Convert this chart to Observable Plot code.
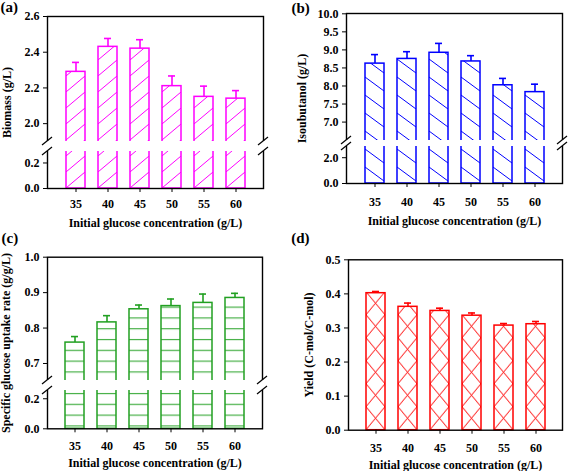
<!DOCTYPE html>
<html><head><meta charset="utf-8">
<script src="https://cdn.jsdelivr.net/npm/d3@7"></script>
<script src="https://cdn.jsdelivr.net/npm/@observablehq/plot@0.6"></script>
<style>
body{margin:0;background:#fff;}
#fig{position:relative;width:568px;height:471px;overflow:hidden;background:#fff;}
#fig svg{position:absolute;overflow:visible;}
</style></head><body><div id="fig"></div>
<script>
const glucose = ["35", "40", "45", "50", "55", "60"];
const xTitle = "Initial glucose concentration (g/L)";

const biomass = [2.29, 2.43, 2.42, 2.21, 2.15, 2.14];
const biomassErr = [0.053, 0.047, 0.05, 0.057, 0.06, 0.045];
const biomassTicks = [0, 0.2, 2.0, 2.2, 2.4, 2.6];

const isobutanol = [8.62, 8.75, 8.92, 8.68, 8.02, 7.83];
const isobutanolErr = [0.25, 0.2, 0.26, 0.16, 0.19, 0.22];
const isobutanolTicks = [0, 2, 7, 7.5, 8, 8.5, 9, 9.5, 10];

const uptake = [0.759, 0.816, 0.853, 0.862, 0.871, 0.885];
const uptakeErr = [0.017, 0.019, 0.012, 0.02, 0.025, 0.013];
const uptakeTicks = [0, 0.2, 0.7, 0.8, 0.9, 1.0];

const yieldV = [0.402, 0.362, 0.350, 0.336, 0.307, 0.311];
const yieldErr = [0.005, 0.011, 0.008, 0.008, 0.006, 0.008];
const yieldTicks = [0, 0.1, 0.2, 0.3, 0.4, 0.5];

const fig = document.getElementById("fig");
const FONT = "'Liberation Serif','Times New Roman',serif";

function hatchContent(kind, bw, color) {
  const s = `stroke="${color}" stroke-width="1" fill="none"`;
  if (kind === "fwd") return {h: 16, body: `<line x1="0" y1="16" x2="${bw}" y2="0" ${s}/>`};
  if (kind === "back") return {h: 18, body: `<line x1="0" y1="2" x2="${bw}" y2="16" ${s}/>`};
  if (kind === "horiz") return {h: 10.8, body: `<line x1="0" y1="8.5" x2="${bw}" y2="8.5" ${s}/>`};
  return {h: 23, body: `<line x1="0" y1="0" x2="${bw}" y2="23" ${s}/><line x1="${bw}" y1="0" x2="0" y2="23" ${s}/>`};
}

function makePanel(c) {
  const data = glucose.map((g, i) => ({g, v: c.values[i], e: c.errs[i]}));
  const marks = [
    Plot.barY(data, {x: "g", y: "v", fill: `url(#${c.id}-hatch)`, stroke: c.color, strokeWidth: 1.5}),
    Plot.ruleX(data, {x: "g", y1: "v", y2: d => d.v + d.e, stroke: c.color, strokeWidth: 1.6}),
    Plot.tickY(data, {x: "g", y: d => d.v + d.e, stroke: c.color, strokeWidth: 1.6, insetLeft: 6, insetRight: 6}),
    Plot.frame({stroke: "black", strokeWidth: 1.4})
  ];
  if (c.gap) marks.push(Plot.rect([c.gap], {y1: d => d[0], y2: d => d[1], fill: "white", insetLeft: -6, insetRight: -6}));
  marks.push(
    Plot.axisY({ticks: c.ticks, tickFormat: d3.format(".1f"), tickSize: 4, tickPadding: 4, label: null, fontSize: 12}),
    Plot.axisX({tickSize: 4, tickPadding: c.xPad, label: null, fontSize: 12}),
    Plot.text([c.ylabel], {text: d => d, frameAnchor: "left", dx: c.ylDx, rotate: -90, textAnchor: "middle", lineAnchor: "middle", fontSize: 12}),
    Plot.text([xTitle], {text: d => d, frameAnchor: "bottom", dy: c.xlDy, textAnchor: "middle", lineAnchor: "middle", fontSize: 12}),
    Plot.text([c.tag], {text: d => d, frameAnchor: "top-left", dx: c.tagDx, dy: c.tagDy, textAnchor: "start", lineAnchor: "middle", fontSize: 15})
  );
  const plot = Plot.plot({
    width: c.width, height: c.height,
    marginLeft: c.ml, marginRight: c.mr, marginTop: c.mt, marginBottom: c.mb,
    x: {type: "band", domain: glucose, paddingInner: 0.42, paddingOuter: 0.52},
    y: {type: "linear", domain: c.yDomain, range: c.yRange},
    style: {fontFamily: FONT, fontWeight: "bold", color: "black", background: "transparent", overflow: "visible"},
    marks
  });
  plot.style.left = c.left + "px";
  plot.style.top = c.top + "px";
  const rects = plot.querySelectorAll('g[aria-label="bar"] rect');
  const r0 = rects[0], r1 = rects[1];
  const x0 = +r0.getAttribute("x"), step = +r1.getAttribute("x") - x0, bw = +r0.getAttribute("width");
  const base = +r0.getAttribute("y") + +r0.getAttribute("height");
  const hc = hatchContent(c.hatch, bw, c.color);
  d3.select(plot).insert("defs", ":first-child").html(
    `<pattern id="${c.id}-hatch" patternUnits="userSpaceOnUse" x="${x0}" y="${base}" width="${step}" height="${hc.h}">` +
    `<rect x="0" y="0" width="${step}" height="${hc.h}" fill="white"/>${hc.body}</pattern>`);
  if (c.gap) {
    const sy = plot.scale("y");
    const yHi = sy.apply(c.gap[1]), yLo = sy.apply(c.gap[0]);
    const g = d3.select(plot).append("g").attr("stroke", "black").attr("stroke-width", 1.2);
    for (const x of [c.ml, c.width - c.mr]) for (const y of [yHi, yLo])
      g.append("line").attr("x1", x - 5).attr("y1", y + 4).attr("x2", x + 5).attr("y2", y - 4);
  }
  fig.appendChild(plot);
}

makePanel({id: "pa", left: 0, top: 0, width: 284, height: 236, ml: 47, mr: 21, mt: 16, mb: 48,
  yDomain: [0, 0.29, 1.9, 2.6], yRange: [188, 151, 141, 16], gap: [0.29, 1.9], ticks: biomassTicks,
  values: biomass, errs: biomassErr, color: "#ff00ff", hatch: "fwd",
  ylabel: "Biomass (g/L)", ylDx: -40, xPad: 7, xlDy: 34.5, tag: "(a)", tagDx: -47, tagDy: -9.5});

makePanel({id: "pb", left: 284, top: 0, width: 284, height: 236, ml: 62, mr: 6, mt: 13, mb: 53,
  yDomain: [0, 2.87, 6.49, 10], yRange: [183, 146, 140, 13.3], gap: [2.87, 6.49], ticks: isobutanolTicks,
  values: isobutanol, errs: isobutanolErr, color: "#0000ff", hatch: "back",
  ylabel: "Isoubutanol (g/L)", ylDx: -44, xPad: 9.5, xlDy: 37.5, tag: "(b)", tagDx: -55, tagDy: -5.6});

makePanel({id: "pc", left: 0, top: 226, width: 284, height: 245, ml: 47, mr: 22, mt: 30.7, mb: 42.7,
  yDomain: [0, 0.255, 0.652, 1.0], yRange: [202.3, 164, 154, 30.7], gap: [0.255, 0.652], ticks: uptakeTicks,
  values: uptake, errs: uptakeErr, color: "#22a022", hatch: "horiz",
  ylabel: "Specific glucose uptake rate (g/g/L)", ylDx: -41, xPad: 8.4, xlDy: 34.7, tag: "(c)", tagDx: -46, tagDy: -19.2});

makePanel({id: "pd", left: 284, top: 226, width: 284, height: 245, ml: 64, mr: 6, mt: 33.3, mb: 41.3,
  yDomain: [0, 0.5], yRange: [203.7, 33.3], gap: null, ticks: yieldTicks,
  values: yieldV, errs: yieldErr, color: "#ff0000", hatch: "cross",
  ylabel: "Yield (C-mol/C-mol)", ylDx: -39, xPad: 9, xlDy: 35, tag: "(d)", tagDx: -57.3, tagDy: -21.3});
</script></body></html>
